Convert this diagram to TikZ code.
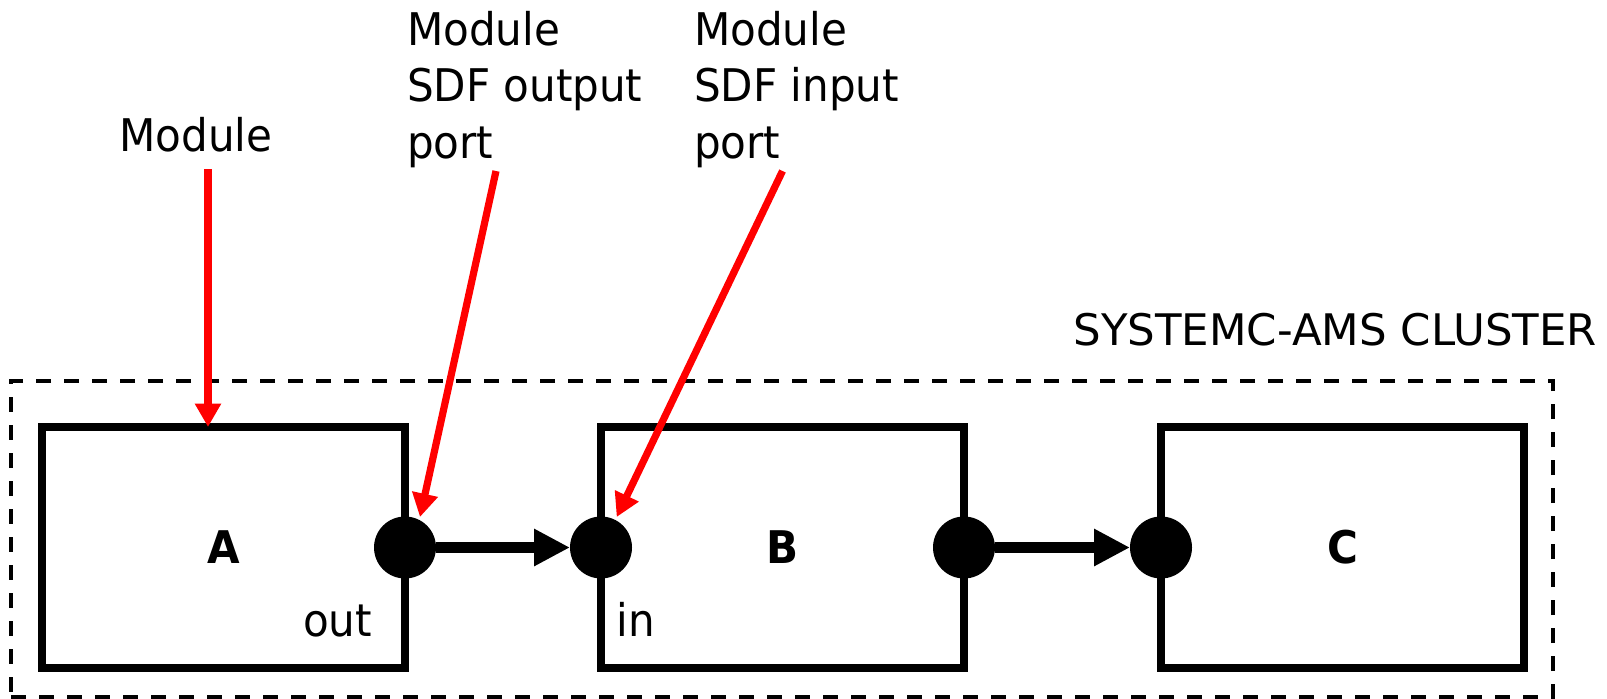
\documentclass[tikz,border=0pt]{standalone}
\usepackage{fontspec}
\setmainfont{DejaVu Sans}[FakeStretch=0.935]
\newfontfamily\clusterfont{DejaVu Sans}
\usetikzlibrary{arrows.meta}
\begin{document}
\begin{tikzpicture}[x=1pt,y=-1pt,
  lbl/.style={inner sep=0pt, outer sep=0pt, font=\fontsize{45}{56.7}\selectfont},
  module/.style={draw=black, line width=7.7pt, minimum width=363pt, minimum height=241pt,
     inner sep=0pt, outer sep=0pt, fill=white, font=\fontsize{45}{54}\selectfont\bfseries},
  portdot/.style={circle, fill=black, draw=none, minimum size=62pt, inner sep=0pt, outer sep=0pt},
  flow/.style={line width=11.5pt, -{Triangle[length=36pt,width=35pt]}},
  pointer/.style={red, line width=7.2pt, -{Triangle[length=23.5pt,width=25pt]}},
  clusterbox/.style={draw=black, line width=3.5pt, dash pattern=on 15pt off 13pt,
     minimum width=1542pt, minimum height=316pt, inner sep=0pt}
]
\useasboundingbox (0,0) rectangle (1607,699);

% cluster
\node[clusterbox] (cl) at (782,539) {};
\node[inner sep=0pt, outer sep=0pt, font=\clusterfont\fontsize{43.5}{52}\selectfont, anchor=base west] (cltext) at (1073.5,345) {SYSTEMC-AMS CLUSTER};

% modules
\node[module] (A) at (223.5,547.5) {A};
\node[module] (B) at (782.5,547.5) {B};
\node[module] (C) at (1342.5,547.5) {C};

% ports
\node[portdot] (aout) at (A.east) {};
\node[portdot] (bin) at (B.west) {};
\node[portdot] (bout) at (B.east) {};
\node[portdot] (cin) at (C.west) {};

\node[lbl, anchor=base east] (outlbl) at (372,636.7) {out};
\node[lbl, anchor=base west] (inlbl) at (616.5,636.7) {in};

% flows
\draw[flow] (aout) -- (bin);
\draw[flow] (bout) -- (cin);

% annotation labels
\node[lbl, anchor=base west] (l1) at (119.5,151.7) {Module};
\node[lbl, anchor=north west, align=left] (l2) at (407,11) {Module\\SDF output\\port};
\node[lbl, anchor=north west, align=left] (l3) at (694,11) {Module\\SDF input\\port};

% pointer ends
\coordinate (p1s) at (208,169);
\coordinate (p1e) at (208,427);
\coordinate (p2s) at (496,171);
\coordinate (p2e) at (420,517);
\coordinate (p3s) at (782.5,171);
\coordinate (p3e) at (616.7,517);

\draw[pointer] (p1s) -- (p1e);
\draw[pointer] (p2s) -- (p2e);
\draw[pointer] (p3s) -- (p3e);
\end{tikzpicture}
\end{document}
